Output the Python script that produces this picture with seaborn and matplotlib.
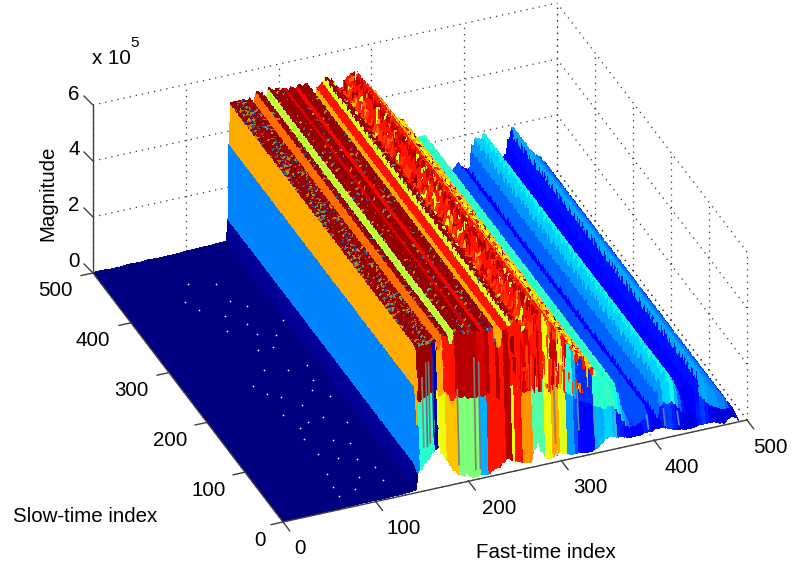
import numpy as np
import matplotlib
matplotlib.use("Agg")
import matplotlib.pyplot as plt
from mpl_toolkits.mplot3d import proj3d
import seaborn as sns

# ---- data (magnitude in units of 1e5) ----
fast_index = [0,20,40,60,80,100,120,135,143,145,146.5,148,
    152,156,160,164,168,170,176,180,183,189,
    193,197,201,205,209,213,217,221,225,229,
    232,236,241,247,250,254,258,262,266,270,
    274,278,282,286,290,294,298,302,306,310,
    314,318,322,326,331,336,342,347,352,356,
    360,364,368,372,376,380,384,388,392,396,
    400,404,408,412,416,420,424,428,432,436,
    440,444,447,451,455,459,463,467,471,475,
    479,483,487,491]
magnitude = [.02,.02,.03,.04,.05,.05,.06,.08,.10,.90,3.57,5.00,
    5.02,5.00,5.03,5.00,5.02,4.75,5.20,5.15,4.85,5.25,
    5.10,5.15,5.05,5.10,5.02,5.10,5.00,5.10,5.02,5.10,
    4.60,4.30,4.90,5.05,5.15,5.10,4.90,4.60,4.70,4.90,
    5.00,5.10,5.15,4.90,4.70,4.60,4.40,4.30,4.10,3.90,
    3.70,3.50,3.30,3.20,3.10,2.80,2.50,2.20,2.30,2.30,
    2.10,1.70,1.20,.90,.70,.75,.90,1.00,1.07,.90,
    .80,.90,1.60,1.86,1.75,1.90,1.70,1.40,1.10,.90,
    .90,1.00,1.50,1.90,1.60,1.30,1.10,1.00,.90,.80,
    .70,.50,.30,.10]
colour_level = [0,0,0,0,0,0,0,0,.02,.255,.73,.98,
    .98,.98,.98,.98,.98,.79,.98,.98,.58,.98,
    .98,.98,.98,.92,.98,.98,.90,.98,.98,.98,
    .98,.73,.89,.62,.98,.98,.89,.95,.85,.89,
    .89,.95,.89,.85,.79,.89,.85,.73,.89,.80,
    .85,.73,.80,.64,.70,.58,.45,.40,.40,.42,
    .37,.34,.30,.25,.18,.20,.20,.20,.20,.12,
    .12,.22,.27,.33,.33,.37,.30,.22,.14,.10,
    .10,.12,.14,.29,.29,.28,.27,.27,.25,.25,
    .22,.14,.08,.05]
dip_depth = [0,.02,.02,.03,.03,.03,.03,.03,.03,.03,.03,.05,
    .05,.05,.05,.05,.05,.05,.05,.05,.05,.05,
    .05,.05,.05,.05,.05,.05,.05,.05,.05,.05,
    .05,.05,.05,.05,.10,1.2,1.8,2.2,1.5,2.4,
    2.6,1.6,2.8,2.0,1.2,2.4,1.5,2.0,1.0,1.8,
    1.2,1.5,.9,1.2,.9,.6,.5,.25,.25,.25,
    .25,.2,.2,.2,.2,.15,.2,.2,.2,.2,
    .2,.2,.25,.25,.25,.25,.25,.2,.2,.2,
    .2,.2,.25,.3,.25,.2,.2,.2,.2,.2,
    .2,.18,.12,.05]
front_edge = [.02,.02,.03,.04,.05,.05,.06,.08,.10,.70,.78,.80,
    1.0,1.1,1.3,1.4,1.5,1.2,.9,.7,.5,.3,
    .25,.3,.15,.1,.1,.15,.1,.1,.2,.25,
    .25,.4,.5,.4,.35,.3,.25,.2,.2,.6,
    .85,.5,.3,.15,.2,.3,.3,.25,.2,.15,
    .15,.15,.12,.1,.1,.15,.3,.45,.5,.45,
    .4,.4,.35,.3,.3,.3,.3,.35,.35,.35,
    .4,.4,.4,.35,.3,.25,.2,.2,.15,.15,
    .15,.18,.2,.2,.2,.2,.2,.15,.1,.07,
    .2,.25,.2,.05]
front_low = [0,0,0,0,0,0,0,0,0,.255,.255,.40,
    .40,.40,.40,.05,.64,.64,.70,.70,.70,.50,
    .50,.50,.50,.50,.50,.30,.30,.89,.89,.89,
    .89,.89,.95,.64,.89,.89,.75,.75,.75,.45,
    .45,.45,.64,.64,.73,.73,.62,.62,.28,.28,
    .20,.13,.13,.13,.13,.30,.30,.33,.33,.30,
    .15,.15,.12,.12,.10,.12,.12,.15,.15,.10,
    .10,.12,.15,.18,.18,.15,.12,.10,.08,.08,
    .08,.12,.15,.18,.15,.12,.08,.08,.08,.08,
    .06,.06,.05,.05]
front_high = [0,0,0,0,0,0,0,0,0,.255,.73,.98,
    .98,.98,.98,.05,.73,.73,.89,.89,.89,.95,
    .95,.95,.95,.95,.95,.92,.92,.95,.89,.89,
    .95,.89,.95,.89,.89,.89,.92,.92,.92,.89,
    .89,.89,.64,.64,.93,.93,.62,.62,.40,.40,
    .30,.17,.17,.17,.17,.40,.40,.40,.42,.40] + colour_level[62:]
ramp_share = [0.0, 0.17, 0.35, 0.55, 0.75, 0.9]
dip_rows = [0,1,0,0,1,1,0,0,0,1,0,1,0,0,0,1,1,0,1,0,0,0,1]
column_shift = [3,17,8,21,0,12,5,19,14,2,9,22,6,16,1,11,20,4,13,7,18,10,15,
                5,22,9,1,16,12,3,19,7,14,0,21,10]
noise_colours = [.89,.64,.73,.95,.89,.85,.62,.98,.89,.80,.89,.92]
speckle_colours = [.30,.62,.25,.70,.45]
dot_fast = [78,104,70,105,117,81,106,140,120,102,80,118,73,109,87,131,73,109,128,78,111,72,100,69,
            62,90,96,112,124,66,84,98,130,76,94,115,122,88,68,104,126,92]
dot_slow = [440,429,391,396,381,345,328,342,30,117,151,211,221,254,263,256,179,161,143,98,76,61,43,37,
            410,372,300,300,320,240,210,190,195,130,85,105,55,25,18,350,228,158]
stripe_fast = [153,157,160,164,191,209,214,295,320,338,360,395,413,428]
stripe_top = [3.9,4.4,4.4,4.6,3.2,4.2,4.0,2.6,2.3,1.3,1.1,.8,.9,.7]
stripe_bottom = [1.5,1.5,1.6,1.8,.6,.3,.3,.6,.9,.5,.4,.4,.4,.3]
stripe_colour = ["#8a8a70","#6a6a80","#7a7a60","#3a2a90","#808070","#808070","#7a7a8a",
                 "#8a8a60","#6a8aa0","#40a0c0","#50b0d0","#30a0e0","#5a7ab0","#30a0e0"]
x_ticks = [0,100,200,300,400,500]
y_ticks = [0,100,200,300,400,500]
z_ticks = [0,2,4,6]

W, H = 795, 569
sns.set_theme(style="white")
plt.rcParams["font.family"] = ["Liberation Sans", "DejaVu Sans"]
jet = matplotlib.colormaps["jet"]

# every read-off column is held over two grid columns so that slow-time streaks can be thin
fast = np.ravel(np.column_stack([fast_index, np.array(fast_index, float) + 0.01 +
                                 np.r_[np.diff(fast_index), 0.0] / 2]))
main = np.repeat(magnitude, 2)
depth = np.repeat(dip_depth, 2)
level = np.repeat(colour_level, 2)
edge = np.minimum(np.repeat(front_edge, 2), main)
low = np.repeat(front_low, 2)
high = np.repeat(front_high, 2)

slow = np.arange(0, 501, 2.0)
X, Y = np.meshgrid(fast, slow)
Z = np.tile(main, (len(slow), 1))
C = np.tile(level, (len(slow), 1))
speck = np.zeros(C.shape, bool)
for j in range(len(slow)):
    for i in range(len(fast)):
        shift = column_shift[i % len(column_shift)]
        if dip_rows[(j + shift) % len(dip_rows)]:
            Z[j, i] = max(main[i] - depth[i], 0.0)
            if depth[i] >= 0.5:
                C[j, i] = noise_colours[(i + j) % len(noise_colours)]
            elif level[i] == .98 and j % (2 if fast[i] < 168 else 6) == 0:
                C[j, i] = speckle_colours[(i + j) % len(speckle_colours)]
                speck[j, i] = True
for j, share in enumerate(ramp_share):
    Z[j] = edge + (main - edge) * share
    C[j] = low if j < 3 else high
    speck[j] = False
F = jet(C)
F[speck] = 0.6 * F[speck] + 0.4 * np.array([.5, 0, 0, 1])

fig = plt.figure(figsize=(W / 100, H / 100), dpi=100, facecolor="white")
ax = fig.add_axes([0.1, 0.1, 0.8, 0.8], projection="3d", proj_type="ortho")
ax.set_box_aspect((1, 1, 0.397))
ax.view_init(elev=32.46, azim=-112.27)
ax.set_xlim(0, 500); ax.set_ylim(0, 500); ax.set_zlim(0, 6)
ax.set_axis_off()
ax.computed_zorder = False

def to_px(x, y, z):
    px, py, _ = proj3d.proj_transform(x, y, z, ax.get_proj())
    a, b = ax.transData.transform((px, py))
    return a, H - b

# place the axes so that the box corners land where the reference has them
target_o, target_a = np.array([283.0, 522.0]), np.array([747.0, 420.0])
fig.canvas.draw()
o, a = np.array(to_px(0, 0, 0)), np.array(to_px(500, 0, 0))
side = ax.get_position().width * W * np.linalg.norm(target_a - target_o) / np.linalg.norm(a - o)
ax.set_position([0.5 - side / W / 2, 0.5 - side / H / 2, side / W, side / H])
fig.canvas.draw()
o = np.array(to_px(0, 0, 0))
d = target_o - o
p = ax.get_position()
ax.set_position([p.x0 + d[0] / W, p.y0 - d[1] / H, p.width, p.height])
fig.canvas.draw()

grid_kw = dict(color="0.2", lw=0.9, ls=(0, (1, 4)), zorder=1)
for z in z_ticks:
    ax.plot([0, 500], [500, 500], [z, z], **grid_kw)
    ax.plot([500, 500], [0, 500], [z, z], **grid_kw)
for t in x_ticks:
    ax.plot([t, t], [500, 500], [0, 6], **grid_kw)
    ax.plot([t, t], [0, 500], [0, 0], **grid_kw)
for t in y_ticks:
    ax.plot([500, 500], [t, t], [0, 6], **grid_kw)
    ax.plot([0, 500], [t, t], [0, 0], **grid_kw)

surf = ax.plot_surface(X, Y, Z, facecolors=F, rstride=1, cstride=1, shade=False,
                       linewidth=0, antialiased=False, zorder=2)
ax.scatter(dot_fast, dot_slow, [0.1] * len(dot_fast), c="white", s=1.5, linewidths=0,
           depthshade=False, zorder=3)
for f, top, bot, col in zip(stripe_fast, stripe_top, stripe_bottom, stripe_colour):
    ax.plot([f, f], [3, 8], [bot, top], color=col, lw=1.2, zorder=3)

line_kw = dict(color="0.25", lw=1.0, zorder=4)
ax.plot([0, 500], [0, 0], [0, 0], **line_kw)
ax.plot([0, 0], [0, 500], [0, 0], **line_kw)
ax.plot([0, 0], [500, 500], [0, 6], **line_kw)
for t in x_ticks:
    ax.plot([t, t], [0, -18], [0, 0], **line_kw)
for t in y_ticks:
    ax.plot([0, -13], [t, t], [0, 0], **line_kw)
for t in z_ticks:
    ax.plot([0, -2], [500, 519], [t, t], **line_kw)

fs = 14.8
def px_text(x, y, s, **kw):
    fig.text(x / W, 1 - y / H, s, ha="center", va="center", color="black",
             fontsize=kw.pop("fontsize", fs), **kw)

for t, s in zip(x_ticks, (17, 28, 31, 29, 28, 23)):
    px, py = to_px(t, 0, 0)
    px_text(px + s, py + 27, str(t))
for t, s in zip(y_ticks, (-23, -36, -37, -38, -38, -38)):
    px, py = to_px(0, t, 0)
    px_text(px + s, py + 18, str(t))
for t in z_ticks:
    px, py = to_px(0, 500, t)
    px_text(px - 19, py - 11, str(t))

px_text(111, 58, "x 10")
px_text(135, 43, "5", fontsize=11)
px_text(48, 193, "Magnitude", rotation=90)
px_text(85, 517, "Slow-time index")
px_text(546, 553, "Fast-time index")

fig.savefig("out.png", dpi=100, facecolor="white")
